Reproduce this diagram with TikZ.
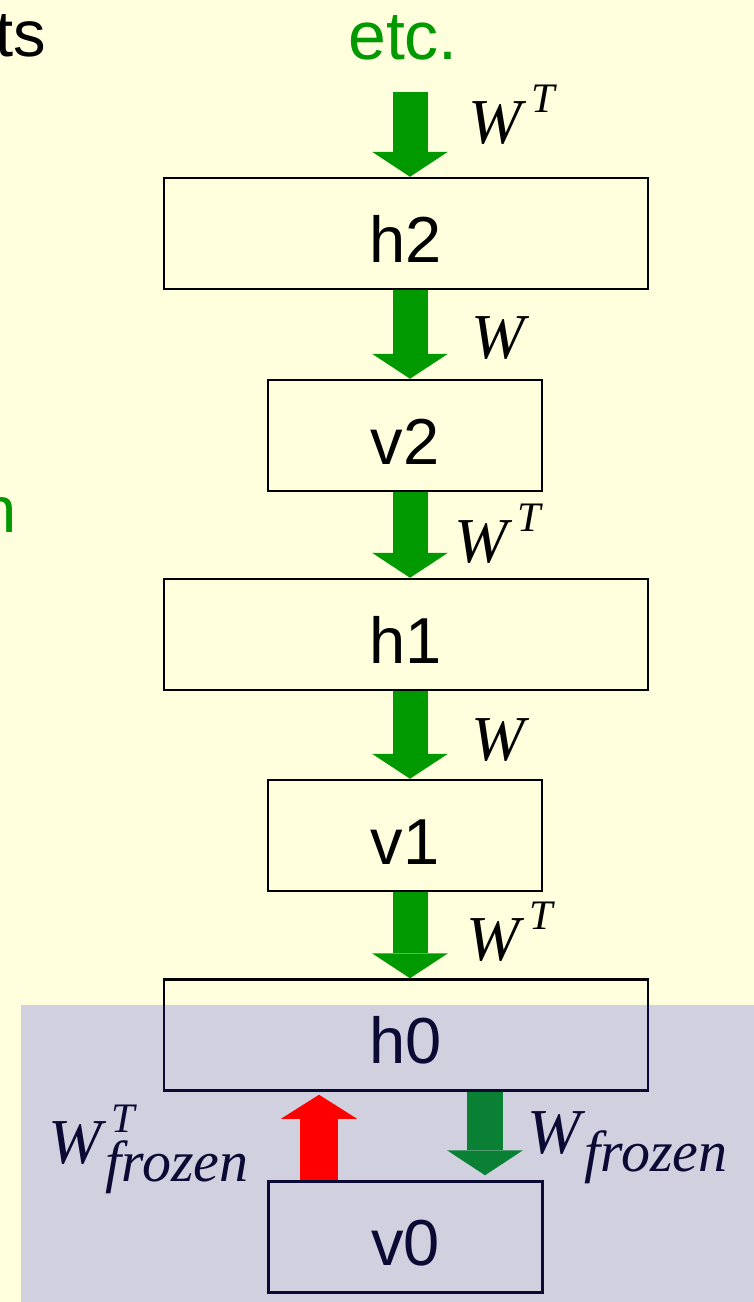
\documentclass[tikz,border=0pt]{standalone}
\usepackage{fontspec}
\setmainfont{Liberation Sans}
\newfontfamily\timesfont{Liberation Serif}
\usetikzlibrary{arrows.meta}
\definecolor{slidebg}{RGB}{255,255,221}
\definecolor{arrowgreen}{RGB}{0,153,0}
\definecolor{frozenblue}{RGB}{45,45,234}
% weight label: W with superscript #1 and subscript #2
\newcommand{\wlab}[2]{{\timesfont\itshape W\rlap{\kern10pt\raisebox{31pt}{\fontsize{42}{42}\selectfont #1}}\kern4pt\raisebox{-18pt}{\fontsize{58}{58}\selectfont #2}}}

\begin{document}
\begin{tikzpicture}[x=1pt,y=-1pt,
  layer node/.style={draw,line width=2.5pt,minimum height=111pt,inner sep=0pt,
    text height=57pt,text depth=0pt,font=\fontsize{65}{70}\selectfont},
  wide/.style={layer node,minimum width=484pt},
  narrow/.style={layer node,minimum width=274pt},
  green arrow/.style={arrowgreen,line width=35pt,
    -{Triangle[width=76pt,length=25pt,line width=0pt]}},
  weight/.style={anchor=base west,inner sep=0pt,font=\fontsize{64}{70}\selectfont},
  side text/.style={inner sep=0pt,font=\fontsize{65}{70}\selectfont}]

  \fill[slidebg] (0,0) rectangle (754,1302);
  \useasboundingbox (0,0) rectangle (754,1302);

  \node[side text,anchor=base east] (ts) at (46,56) {ts};
  \node[side text,anchor=base east,text=arrowgreen] (n) at (17,532) {n};
  \node[side text,anchor=base west,text=arrowgreen,font=\fontsize{68}{70}\selectfont] (etc) at (348,59) {etc.};

  \node[wide] (h2) at (406,233.5) {h2};
  \node[narrow] (v2) at (405,435.5) {v2};
  \node[wide] (h1) at (406,634.5) {h1};
  \node[narrow] (v1) at (405,835.5) {v1};
  \node[wide] (h0) at (406,1035) {h0};
  \node[narrow] (v0) at (405.5,1237) {v0};

  \coordinate (axis) at (410,92);
  \coordinate (down) at (485,1140);
  \coordinate (up) at (319,1140);

  \draw[green arrow] (axis) -- (h2.north -| axis);
  \draw[green arrow] (h2.south -| axis) -- (v2.north -| axis);
  \draw[green arrow] (v2.south -| axis) -- (h1.north -| axis);
  \draw[green arrow] (h1.south -| axis) -- (v1.north -| axis);
  \draw[green arrow] (v1.south -| axis) -- (h0.north -| axis);
  \draw[green arrow,line width=36pt,shorten >=5pt] (h0.south -| down) -- (v0.north -| down);

  \node[weight] (w5) at (468,143) {\wlab{T}{}};
  \node[weight] (w4) at (471,358) {\wlab{}{}};
  \node[weight] (w3) at (454,562) {\wlab{T}{}};
  \node[weight] (w2) at (471,760) {\wlab{}{}};
  \node[weight] (w1) at (466,960) {\wlab{T}{}};
  \node[weight] (wf) at (527,1153) {\wlab{}{frozen}};
  \node[weight] (wft) at (48,1163) {\wlab{T}{frozen}};

  % frozen part
  \fill[frozenblue,fill opacity=0.224] (21,1005) rectangle (754,1302);

  \draw[red,line width=38pt,shorten >=3pt,
    -{Triangle[width=76pt,length=24pt,line width=0pt]}] (v0.north -| up) -- (h0.south -| up);
\end{tikzpicture}
\end{document}
